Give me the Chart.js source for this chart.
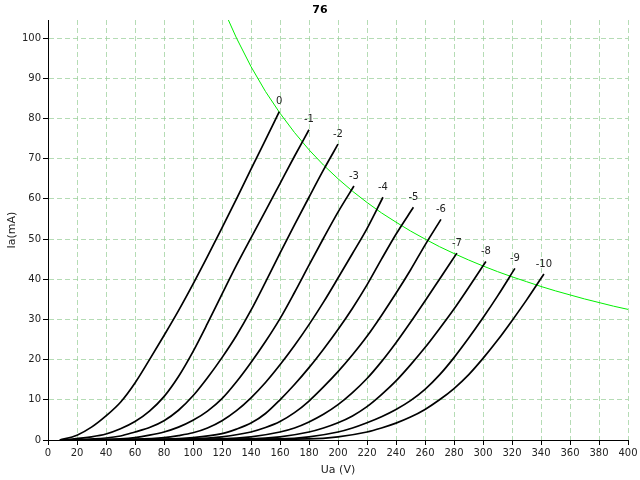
<!DOCTYPE html>
<html><head><meta charset="utf-8">
<script src="https://cdn.jsdelivr.net/npm/chart.js@4/dist/chart.umd.min.js"></script>
<style>html,body{margin:0;padding:0;background:#fff}</style>
</head><body>
<canvas id="c" width="640" height="480"></canvas>
<script>
const chartTitle = '76';
const xTitle = 'Ua (V)';
const yTitle = 'Ia(mA)';
const gridLabels = ['0','-1','-2','-3','-4','-5','-6','-7','-8','-9','-10'];

// anode characteristics [Ua (V), Ia (mA)] for each grid voltage
const g0  = [[8,0],[20,1.2],[30,3.2],[40,6],[50,9.4],[60,14.2],[70,20],[80,26],[90,32.2],[100,38.8],[110,45.7],[120,52.8],[130,60],[140,67.4],[150,74.7],[159.5,81.7]];
const g1  = [[10,0],[30,0.8],[40,1.5],[50,2.8],[60,4.6],[70,7.2],[80,10.8],[90,15.8],[100,22],[110,29],[120,36.3],[130,43.5],[140,50.3],[150,57],[160,63.8],[170,70.6],[180,77.2]];
const g2  = [[10,0],[40,0.5],[50,1],[60,2],[70,3.1],[80,4.8],[90,7.4],[100,11],[110,15.5],[120,20.5],[130,26],[140,32.3],[150,39.3],[160,46.5],[170,53.5],[180,60.4],[190,67.2],[200,73.6]];
const g3  = [[10,0],[50,0.3],[60,0.6],[70,1.2],[80,2],[90,3.2],[100,4.9],[110,7.2],[120,10.3],[130,14.5],[140,19.3],[150,24.5],[160,30.2],[170,36.7],[180,43.5],[190,50.2],[200,56.7],[211,63.2]];
const g4  = [[10,0],[60,0.2],[80,0.6],[90,1.1],[100,1.8],[110,3],[120,4.8],[130,7.3],[140,10.5],[150,14.3],[160,18.7],[170,23.5],[180,28.7],[190,34.3],[200,40.3],[210,46.4],[220,52.6],[231,60.4]];
const g5  = [[10,0],[80,0.2],[100,0.6],[120,1.6],[130,2.7],[140,4.2],[150,6.6],[160,10],[170,13.8],[180,18],[190,22.6],[200,27.5],[210,32.8],[220,38.6],[230,45],[240,51.2],[252,57.9]];
const g6  = [[10,0],[100,0.3],[120,0.8],[140,2],[150,3.1],[160,4.6],[170,6.8],[180,9.7],[190,13.2],[200,17],[210,21.2],[220,25.8],[230,31],[240,36.5],[250,42.3],[260,48.5],[271,54.9]];
const g7  = [[10,0],[120,0.3],[140,0.8],[160,2],[170,3],[180,4.5],[190,6.4],[200,8.8],[210,11.8],[220,15.3],[230,19.5],[240,24.2],[250,29.3],[260,34.6],[270,40],[282,46.5]];
const g8  = [[10,0],[140,0.3],[160,0.8],[180,2],[190,3],[200,4.3],[210,6],[220,8.3],[230,11.3],[240,14.7],[250,18.7],[260,23],[270,27.7],[280,32.6],[290,37.9],[302,44.4]];
const g9  = [[10,0],[160,0.3],[180,0.8],[200,2],[210,3],[220,4.3],[230,5.8],[240,7.6],[250,9.8],[260,12.6],[270,16.2],[280,20.5],[290,25.3],[300,30.4],[310,35.8],[322,42.7]];
const g10 = [[10,0],[180,0.3],[200,0.8],[220,2],[230,3],[240,4.2],[250,5.7],[260,7.6],[270,10],[280,12.8],[290,16.2],[300,20.3],[310,24.8],[320,29.7],[330,34.8],[342,41.3]];
const curves = [g0,g1,g2,g3,g4,g5,g6,g7,g8,g9,g10];

// max dissipation curve
const pdV = [124.4,130,140,150,160,170,180,190,200,210,220,230,240,250,260,270,280,290,300,310,320,330,340,350,360,370,380,390,400];
const pdI = [104.5,100,92.9,86.7,81.3,76.5,72.2,68.4,65,61.9,59.1,56.5,54.2,52,50,48.1,46.4,44.8,43.3,41.9,40.6,39.4,38.2,37.1,36.1,35.1,34.2,33.3,32.5];

const xTicks = {min:0, max:400, step:20};
const yTicks = {min:0, max:104.5, step:10};

const FONT = 'DejaVu Sans';
const datasets = curves.map((c,i)=>({
  label: gridLabels[i],
  data: c.map(p=>({x:p[0], y:p[1]})),
  borderColor:'#000', borderWidth:1.7, pointRadius:0, showLine:true,
  cubicInterpolationMode:'monotone', fill:false
}));
datasets.push({
  label:'Pa',
  data: pdV.map((v,i)=>({x:v, y:pdI[i]})),
  borderColor:'#00f000', borderWidth:1, pointRadius:0, showLine:true, tension:0, fill:false
});

const textPlugin = {
  id:'texts',
  afterDatasetsDraw(chart){
    const ctx = chart.ctx, xs = chart.scales.x, ys = chart.scales.y, a = chart.chartArea;
    ctx.save();
    ctx.strokeStyle = '#000'; ctx.lineWidth = 1;
    ctx.beginPath(); ctx.moveTo(a.left, Math.round(a.bottom)+0.5); ctx.lineTo(a.right, Math.round(a.bottom)+0.5); ctx.stroke();
    ctx.fillStyle = '#222';
    ctx.font = '10px "' + FONT + '"';
    ctx.textAlign = 'center';
    ctx.textBaseline = 'middle';
    curves.forEach((c,i)=>{
      const last = c[c.length-1];
      ctx.fillText(gridLabels[i], xs.getPixelForValue(last[0]), ys.getPixelForValue(last[1]) - 10);
    });
    ctx.restore();
  },
  afterDraw(chart){
    const ctx = chart.ctx, a = chart.chartArea;
    ctx.save();
    ctx.fillStyle = '#000';
    ctx.textAlign = 'center';
    ctx.textBaseline = 'middle';
    ctx.font = 'bold 11px "' + FONT + '"';
    ctx.fillText(chartTitle, 320, 10);
    ctx.fillStyle = '#222';
    ctx.font = '11px "' + FONT + '"';
    ctx.fillText(xTitle, (a.left + a.right)/2, 470);
    ctx.translate(12, (a.top + a.bottom)/2);
    ctx.rotate(-Math.PI/2);
    ctx.fillText(yTitle, 0, 0);
    ctx.restore();
  }
};

const gridCol = 'rgba(150,205,150,0.7)';
new Chart(document.getElementById('c'), {
  type:'scatter',
  data:{datasets},
  options:{
    responsive:false, animation:false, devicePixelRatio:1,
    layout:{padding:{top:20,right:12,left:0,bottom:0}},
    plugins:{legend:{display:false}, tooltip:{enabled:false}, title:{display:false}},
    scales:{
      x:{
        type:'linear', min:xTicks.min, max:xTicks.max,
        afterFit(s){ s.height = 40; },
        ticks:{stepSize:xTicks.step, color:'#222', font:{family:FONT,size:10}, padding:2, maxRotation:0, autoSkip:false},
        grid:{color:gridCol, tickColor:'#000', tickBorderDash:[], tickLength:5, drawTicks:true},
        border:{display:false, dash:[5,3]}
      },
      y:{
        type:'linear', min:yTicks.min, max:yTicks.max,
        afterFit(s){ s.width = 48; },
        afterBuildTicks(s){ s.ticks = s.ticks.filter(t => Math.abs(t.value % yTicks.step) < 1e-6); },
        ticks:{stepSize:yTicks.step, color:'#222', font:{family:FONT,size:10}, padding:2},
        grid:{color:gridCol, tickColor:'#000', tickBorderDash:[], tickLength:5, drawTicks:true},
        border:{display:true, color:'#000', width:1, dash:[5,3]}
      }
    }
  },
  plugins:[textPlugin]
});
</script>
</body></html>
